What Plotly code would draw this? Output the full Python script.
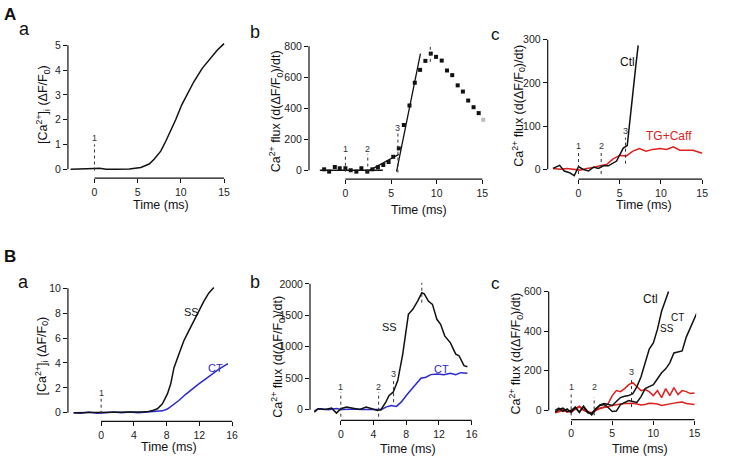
import plotly.graph_objects as go

W, H = 730, 462
FONT = "Liberation Sans, Arial, sans-serif"
BLACK = "#111111"
BLUE = "#2a2acc"
RED = "#e0201e"

# ---------------- Panel A-a : [Ca2+]i ----------------
aa_t = [-2.76, -1.34, 0, 0.58, 1.34, 2.5, 4.03, 5.37, 6.33, 6.9, 7.67, 8.25, 8.82, 9.4, 10.1, 10.66, 11.5, 12.47, 13.4, 14.2, 15.0]
aa_y = [0, 0, 0.03, 0.04, 0, 0, 0.01, 0.07, 0.21, 0.4, 0.73, 1.13, 1.53, 2.0, 2.6, 3.0, 3.53, 4.07, 4.47, 4.8, 5.07]

# ---------------- Panel A-b : flux points + fits ----------------
ab_t = [-2.33, -1.78, -1.16, -0.62, 0, 0.58, 1.2, 1.75, 2.4, 2.95, 3.56, 4.15, 4.73, 5.24, 5.85, 6.4, 7.02, 7.6, 8.18,
        8.76, 9.35, 9.93, 10.55, 11.13, 11.7, 12.3, 12.87, 13.45, 14.04, 14.6, 15.1]
ab_y = [6, -9, 21, 13, 13, 0, -9, 13, -9, 6, 19, 34, 53, 87, 141, 292, 418, 565, 648,
        706, 753, 732, 708, 644, 614, 548, 508, 450, 407, 369, 326]
ab_fit1_t = [-2.8, 4.1]
ab_fit1_y = [0, 0]
ab_fit2_t = [2.4, 5.85]
ab_fit2_y = [-9, 102]
ab_fit3_t = [5.6, 8.22]
ab_fit3_y = [-9, 753]

# ---------------- Panel A-c : Ctl vs TG+Caff ----------------
ac_ctl_t = [-3.1, -2.29, -1.73, -1.09, -0.52, 0, 0.52, 1.21, 1.81, 2.41, 3.02, 3.62, 4.62, 5.43, 5.91, 6.43, 6.96, 7.24]
ac_ctl_y = [2, 9, -4, -8, -15, 6, 0, -4, 5, 2, 8, 8, 19, 49, 55, 153, 241, 287]
ac_tg_t = [-3.1, -2.2, -1.4, -0.6, 0.2, 1.0, 1.8, 2.6, 3.4, 4.2, 5.0, 5.8, 6.6, 7.4, 8.2, 9.0, 9.9, 10.7, 11.5, 12.3, 13.1, 13.9, 15.0]
ac_tg_y = [2, 0, 2, 0, -2, 2, 4, 8, 11, 24, 32, 31, 42, 48, 42, 46, 48, 46, 52, 44, 44, 44, 37]

# ---------------- Panel B-a : SS vs CT [Ca2+]i ----------------
ba_ss_t = [-3.36, -2, 0, 2, 4, 5, 5.8, 6.4, 6.88, 7.49, 8.1, 8.5, 8.9, 9.5, 10.1, 10.7, 11.3, 11.9, 12.55, 13.15, 13.77]
ba_ss_y = [0, 0.02, 0, 0.03, 0.05, 0.05, 0.1, 0.2, 0.32, 0.72, 1.51, 2.3, 3.6, 4.7, 5.76, 6.55, 7.35, 8.14, 8.94, 9.6, 10.05]
ba_ct_t = [-3.36, -2.5, -1.5, -0.5, 0.5, 1.5, 2.5, 3.5, 4.5, 5.5, 6.5, 7.5, 8.1, 8.7, 9.5, 10.3, 11.1, 11.9, 12.75, 13.56, 14.4, 15.5]
ba_ct_y = [0, -0.05, 0.05, -0.05, 0, 0.05, 0, 0.05, 0, 0.05, 0.05, 0.15, 0.3, 0.58, 0.98, 1.46, 1.9, 2.3, 2.7, 3.1, 3.5, 3.95]

# ---------------- Panel B-b : SS vs CT flux ----------------
bb_ss_t = [-3.24, -2.75, -1.94, -1.13, -0.53, 0, 0.69, 1.5, 2.3, 3.1, 3.7, 4.5, 4.9, 5.5, 5.9, 6.4, 6.96, 7.57, 8.26, 8.8,
           9.39, 9.9, 10.2, 10.7, 11.2, 11.74, 12.2, 12.7, 13.4, 14.05, 14.45, 15.06, 15.47]
bb_ss_y = [-37, 16, 5, 26, -53, 16, 42, 26, 5, 42, 16, -10, 0, 121, 226, 279, 463, 884, 1516, 1595,
           1726, 1858, 1842, 1726, 1674, 1437, 1358, 1174, 1063, 884, 858, 700, 684]
bb_ct_t = [-3.24, -2.9, -2.5, -2, -1.5, -1, -0.5, 0, 0.5, 1, 1.5, 2, 2.5, 3, 3.5, 4, 4.5, 5, 5.5, 6.15, 6.8, 7.37,
           8.18, 8.99, 9.8, 10.4, 11, 11.8, 12.6, 13.4, 14.05, 14.65, 15.47]
bb_ct_y = [-21, 10, 16, 8, 0, 12, 20, 5, 8, 15, 10, 12, 5, 5, 0, 2, -5, 5, 42, 68, 53, 121,
           253, 384, 500, 516, 558, 568, 558, 579, 558, 589, 579]

# ---------------- Panel B-c : Ctl / TG+Caff, SS & CT ----------------
bc_ctl_ss_t = [-1.94, -1.5, -1, -0.5, 0, 0.5, 1, 1.5, 2, 2.5, 3, 3.5, 4, 4.5, 5, 5.5, 6, 6.5, 7, 7.5, 8, 8.5,
               9, 9.5, 10, 10.5, 11, 11.5, 11.85]
bc_ctl_ss_y = [-8, 5, 12, -5, 0, 17, -10, 22, -5, -22, 5, 28, 35, 30, 25, 45, 65, 72, 75, 85, 120, 170,
               240, 310, 340, 410, 500, 560, 600]
bc_ctl_ct_t = [-1.94, -1.5, -1, -0.5, 0, 0.5, 1, 1.5, 2, 2.5, 3, 3.5, 4, 4.5, 5, 5.5, 6, 6.5, 7, 7.5, 8, 8.5,
               9, 9.5, 10, 10.5, 11, 11.5, 12, 12.5, 13, 13.5, 14, 14.5, 15, 15.3]
bc_ctl_ct_y = [0, 12, -5, 8, -10, 15, -8, 18, -12, -15, 10, 25, 30, 15, -5, -3, 30, 40, 50, 45, 40, 70,
               110, 120, 130, 160, 190, 210, 240, 290, 295, 300, 370, 420, 470, 492]
bc_tg_ss_t = [-1.94, -1.5, -1, -0.5, 0, 0.5, 1, 1.5, 2, 2.5, 3, 3.5, 4, 4.5, 5, 5.5, 6, 6.5, 7, 7.5, 8, 8.5,
              9, 9.5, 10, 10.5, 11, 11.5, 12, 12.5, 13, 13.5, 14, 14.5, 15]
bc_tg_ss_y = [-10, -3, 5, -8, 0, 10, 22, 5, -5, -18, 5, 10, 18, 35, 75, 100, 95, 110, 130, 140, 120, 100,
              105, 95, 75, 100, 65, 110, 75, 115, 80, 100, 95, 85, 88]
bc_tg_ct_t = bc_tg_ss_t
bc_tg_ct_y = [-12, -5, 0, -6, -8, 5, 18, 0, -8, -10, 2, 10, 15, 18, 25, 30, 32, 35, 37, 36, 33, 28,
              30, 36, 35, 32, 25, 30, 33, 37, 40, 42, 35, 32, 30]

# ---------------- Event markers (dotted verticals): x, y_bottom, y_top, label, label_y ----------------
aa_marks = [(0, -0.05, 1.0, "1", 1.25)]
ab_marks = [(0, -10, 105, "1", 140), (2.45, -15, 105, "2", 140), (5.75, -15, 240, "3", 272), (9.3, 700, 838, "4", 878)]
ac_marks = [(0, -11, 38, "1", 54), (2.75, -11, 38, "2", 54), (5.7, 13, 73, "3", 88)]
ba_marks = [(0, -0.08, 1.25, "1", 1.6)]
bb_marks = [(0, -110, 280, "1", 365), (4.62, -110, 280, "2", 365), (6.45, 121, 489, "3", 570), (9.9, 1700, 2016, "4", 2125)]
bc_marks = [(0, -25, 92, "1", 120), (2.8, -25, 67, "2", 120), (7.34, 17, 167, "3", 195)]

# ---------------- Layout helpers ----------------
fig = go.Figure()
layout = dict(width=W, height=H, autosize=False, margin=dict(l=0, r=0, t=0, b=0),
              paper_bgcolor="white", plot_bgcolor="white", showlegend=False,
              font=dict(family=FONT, color=BLACK, size=12))
shapes = []
annotations = []
TICKFONT = dict(size=10.5, color="#222222", family=FONT)


def px2paper(x, y):
    return x / W, 1 - y / H


def add_axes(n, xcal, ycal, box, xticks, yticks, xline, yline):
    xv0, xp0, xv1, xp1 = xcal
    yv0, yp0, yv1, yp1 = ycal
    left, right, top, bottom = box
    sx = (xv1 - xv0) / (xp1 - xp0)
    sy = (yv1 - yv0) / (yp1 - yp0)
    xr = [xv0 + (left - xp0) * sx, xv0 + (right - xp0) * sx]
    yr = [yv0 + (bottom - yp0) * sy, yv0 + (top - yp0) * sy]
    suf = "" if n == 1 else str(n)
    layout["xaxis" + suf] = dict(domain=[left / W, right / W], range=xr, anchor="y" + suf,
                                 tickvals=xticks, ticks="outside", ticklen=4, tickwidth=1, tickcolor=BLACK,
                                 showline=False, showgrid=False, zeroline=False, fixedrange=True,
                                 tickfont=TICKFONT)
    layout["yaxis" + suf] = dict(domain=[1 - bottom / H, 1 - top / H], range=yr, anchor="x" + suf,
                                 tickvals=yticks, ticks="outside", ticklen=4, tickwidth=1, tickcolor=BLACK,
                                 showline=False, showgrid=False, zeroline=False, fixedrange=True,
                                 tickfont=TICKFONT)
    shapes.append(dict(type="line", xref="x" + suf, yref="y" + suf + " domain", x0=xline[0], x1=xline[1],
                       y0=0, y1=0, line=dict(color=BLACK, width=1.2)))
    shapes.append(dict(type="line", xref="x" + suf + " domain", yref="y" + suf, x0=0, x1=0,
                       y0=yline[0], y1=yline[1], line=dict(color=BLACK, width=1.2)))
    return "x" + suf, "y" + suf


def line(ax, t, y, color, width=1.5, dash=None):
    fig.add_trace(go.Scatter(x=t, y=y, mode="lines", xaxis=ax[0], yaxis=ax[1], hoverinfo="skip",
                             line=dict(color=color, width=width, dash=dash), cliponaxis=False))


def marks(ax, mlist):
    for (x, y0, y1, lab, ly) in mlist:
        line(ax, [x, x], [y0, y1], "#333333", width=1, dash="dot")
        annotations.append(dict(x=x, y=ly, xref=ax[0], yref=ax[1], text=lab, showarrow=False,
                                font=dict(size=9, color="#333333", family=FONT)))


def txt(ax, x, y, s, color=BLACK, size=11):
    annotations.append(dict(x=x, y=y, xref=ax[0], yref=ax[1], text=s, showarrow=False,
                            font=dict(size=size, color=color, family=FONT)))


def ptxt(px, py, s, size=12.5, angle=0, bold=False):
    x, y = px2paper(px, py)
    annotations.append(dict(x=x, y=y, xref="paper", yref="paper", text=("<b>%s</b>" % s) if bold else s,
                            showarrow=False, textangle=angle, xanchor="center", yanchor="middle",
                            font=dict(size=size, color=BLACK, family=FONT)))


YT1 = "[Ca<sup>2+</sup>]<sub>i</sub> (ΔF/F<sub>0</sub>)"
YT2 = "Ca<sup>2+</sup> flux (d(ΔF/F<sub>0</sub>)/dt)"

# ---- A a
ax = add_axes(1, (0, 95, 15, 225.3), (0, 166.7, 5, 41.7), (68.3, 227, 38, 175.7),
              [0, 5, 10, 15], [0, 1, 2, 3, 4, 5], [0, 15], [0, 5])
line(ax, aa_t, aa_y, BLACK)
marks(ax, aa_marks)
ptxt(162, 203, "Time (ms)")
ptxt(43, 101, YT1, angle=-90)

# ---- A b
ax = add_axes(2, (0, 347.3, 15, 485), (0, 167.7, 800, 42.7), (310.7, 488, 40, 176.7),
              [0, 5, 10, 15], [0, 200, 400, 600, 800], [0, 15], [0, 800])
line(ax, ab_fit1_t, ab_fit1_y, BLACK, width=1.3)
line(ax, ab_fit2_t, ab_fit2_y, BLACK, width=1.3)
line(ax, ab_fit3_t, ab_fit3_y, BLACK, width=1.3)
mcol = [BLACK] * (len(ab_t) - 1) + ["#bbbbbb"]
fig.add_trace(go.Scatter(x=ab_t, y=ab_y, mode="markers", xaxis=ax[0], yaxis=ax[1], hoverinfo="skip",
                         marker=dict(symbol="square", size=4, color=mcol, line=dict(width=0)), cliponaxis=False))
marks(ax, ab_marks)
ptxt(421, 208, "Time (ms)")
ptxt(277.7, 108, YT2, angle=-90)

# ---- A c
ax = add_axes(3, (0, 581.7, 15, 706), (0, 166.7, 300, 36), (550.7, 708, 34, 176.7),
              [0, 5, 10, 15], [0, 100, 200, 300], [0, 15], [0, 300])
line(ax, ac_tg_t, ac_tg_y, RED)
line(ax, ac_ctl_t, ac_ctl_y, BLACK)
marks(ax, ac_marks)
txt(ax, 5.9, 249, "Ctl", size=12)
txt(ax, 11.0, 76, "TG+Caff", color=RED, size=12)
ptxt(648, 203, "Time (ms)")
ptxt(521.5, 103, YT2, angle=-90)

# ---- B a
ax = add_axes(4, (0, 101.7, 16, 233.3), (0, 412.3, 10, 286.7), (68.3, 235, 284, 421),
              [0, 4, 8, 12, 16], [0, 2, 4, 6, 8, 10], [0, 16], [0, 10])
line(ax, ba_ct_t, ba_ct_y, BLUE)
line(ax, ba_ss_t, ba_ss_y, BLACK)
marks(ax, ba_marks)
txt(ax, 11.0, 8.1, "SS", size=11)
txt(ax, 14.0, 3.6, "CT", color=BLUE, size=11)
ptxt(170, 447, "Time (ms)")
ptxt(41.7, 355, YT1, angle=-90)

# ---- B b
ax = add_axes(5, (0, 342.7, 16, 474.3), (0, 409.3, 2000, 282.3), (311.7, 476, 280, 420),
              [0, 4, 8, 12, 16], [0, 500, 1000, 1500, 2000], [0, 16], [0, 2000])
line(ax, bb_ct_t, bb_ct_y, BLUE)
line(ax, bb_ss_t, bb_ss_y, BLACK)
marks(ax, bb_marks)
txt(ax, 5.9, 1311, "SS", size=11)
txt(ax, 12.3, 640, "CT", color=BLUE, size=11)
ptxt(410, 448.5, "Time (ms)")
ptxt(279.3, 356, YT2, angle=-90)

# ---- B c
ax = add_axes(6, (0, 574.3, 15, 698.3), (0, 410, 600, 290), (551.7, 700, 287, 419.3),
              [0, 5, 10, 15], [0, 200, 400, 600], [0, 15], [0, 600])
line(ax, bc_tg_ct_t, bc_tg_ct_y, RED)
line(ax, bc_tg_ss_t, bc_tg_ss_y, RED)
line(ax, bc_ctl_ct_t, bc_ctl_ct_y, BLACK)
line(ax, bc_ctl_ss_t, bc_ctl_ss_y, BLACK)
marks(ax, bc_marks)
txt(ax, 9.6, 563, "Ctl", size=12)
txt(ax, 11.6, 415, "SS", size=10)
txt(ax, 12.9, 467, "CT", size=10)
txt(ax, 15.3, 183, "TG+Caff", color=RED, size=12)
txt(ax, 16.3, 87, "SS", color=RED, size=10)
txt(ax, 16.3, 8, "CT", color=RED, size=10)
ptxt(644, 448.5, "Time (ms)")
ptxt(518.5, 353, YT2, angle=-90)

# ---- panel letters
ptxt(10, 11, "A", size=17, bold=True)
ptxt(25, 25, "a", size=18)
ptxt(256.7, 28, "b", size=18)
ptxt(498, 31, "c", size=17)
ptxt(10, 255, "B", size=17, bold=True)
ptxt(24, 280, "a", size=18)
ptxt(256, 280, "b", size=18)
ptxt(498.3, 281.7, "c", size=17)

layout["shapes"] = shapes
layout["annotations"] = annotations
fig.update_layout(**layout)
fig.write_html("out.html", config={"displayModeBar": False},
               post_script="document.body.style.margin='0px';document.body.style.overflow='hidden';")
